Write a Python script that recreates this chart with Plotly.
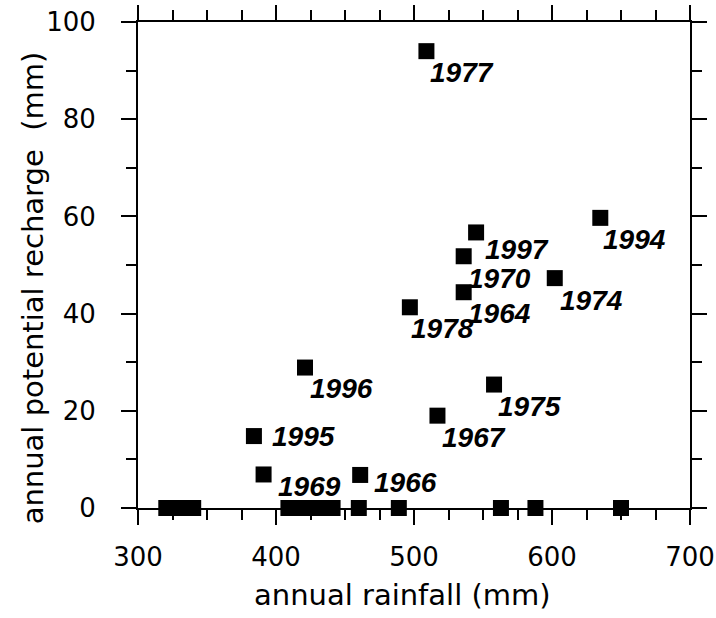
import plotly.graph_objects as go

# labelled years (rainfall mm, potential recharge mm)
years = [1977, 1994, 1997, 1970, 1964, 1974, 1978, 1996, 1975, 1967, 1966, 1995, 1969]
rain_labelled = [509, 635, 545, 536, 536, 602, 497, 421, 558, 517, 461, 384, 391]
recharge_labelled = [94.0, 59.7, 56.7, 51.8, 44.4, 47.3, 41.3, 28.9, 25.4, 19.0, 6.8, 14.8, 6.9]

# years with zero potential recharge
rain_zero = [320.5, 330.5, 340, 409, 417, 425, 433, 441, 460, 489, 563, 588, 650]
recharge_zero = [0] * len(rain_zero)

# label placement (pixels right, pixels down from marker centre)
label_offsets = {
    1977: (3, 21), 1994: (2, 22), 1997: (8, 17.5), 1970: (3, 22), 1964: (3, 21.5),
    1974: (4, 22.5), 1978: (0, 21), 1996: (4, 21), 1975: (3, 22), 1967: (4, 22),
    1966: (13, 7.5), 1995: (17.5, 0), 1969: (13, 12),
}

TICK_FONT = dict(family="DejaVu Sans", size=26, color="black")
TITLE_FONT = dict(family="DejaVu Sans", size=29, color="black")
LABEL_FONT = dict(family="Liberation Sans", size=28, color="black", weight="bold", style="italic")

fig = go.Figure()
fig.add_trace(go.Scatter(
    x=rain_zero + rain_labelled,
    y=recharge_zero + recharge_labelled,
    mode="markers",
    marker=dict(symbol="square", size=16, color="black", line=dict(width=0)),
    cliponaxis=False,
    showlegend=False,
))

for yr, xv, yv in zip(years, rain_labelled, recharge_labelled):
    dx, dy = label_offsets[yr]
    fig.add_annotation(
        x=xv, y=yv, xref="x", yref="y", text=str(yr), showarrow=False,
        xanchor="left", yanchor="middle", xshift=dx, yshift=-dy,
        font=LABEL_FONT, borderpad=0,
    )

# axis titles
fig.add_annotation(
    x=(402 - 138) / 552, y=-0.178, xref="paper", yref="paper",
    text="annual rainfall (mm)", showarrow=False,
    xanchor="center", yanchor="middle", font=TITLE_FONT,
)
fig.add_annotation(
    x=(33 - 138) / 552, y=0.452, xref="paper", yref="paper",
    text="annual potential recharge\u00a0 (mm)", showarrow=False, textangle=-90,
    xanchor="center", yanchor="middle", font=TITLE_FONT,
)

axis_common = dict(
    showgrid=False, zeroline=False, showline=True, linecolor="black", linewidth=2,
    mirror="ticks", ticks="outside", ticklen=15, tickwidth=2, tickcolor="black",
    tickfont=TICK_FONT, automargin=False,
)
fig.update_xaxes(
    range=[300, 700], tick0=300, dtick=100, ticklabelstandoff=10,
    minor=dict(dtick=25, ticks="outside", ticklen=10, tickwidth=2, tickcolor="black", showgrid=False),
    **axis_common,
)
fig.update_yaxes(
    range=[0, 100], tick0=0, dtick=20, ticklabelstandoff=20,
    minor=dict(dtick=10, ticks="outside", ticklen=10, tickwidth=2, tickcolor="black", showgrid=False),
    **axis_common,
)

fig.update_layout(
    template="none",
    width=716, height=618,
    margin=dict(l=138, r=26, t=22, b=110, pad=0),
    paper_bgcolor="white", plot_bgcolor="white",
)

fig.write_html("out.html")
